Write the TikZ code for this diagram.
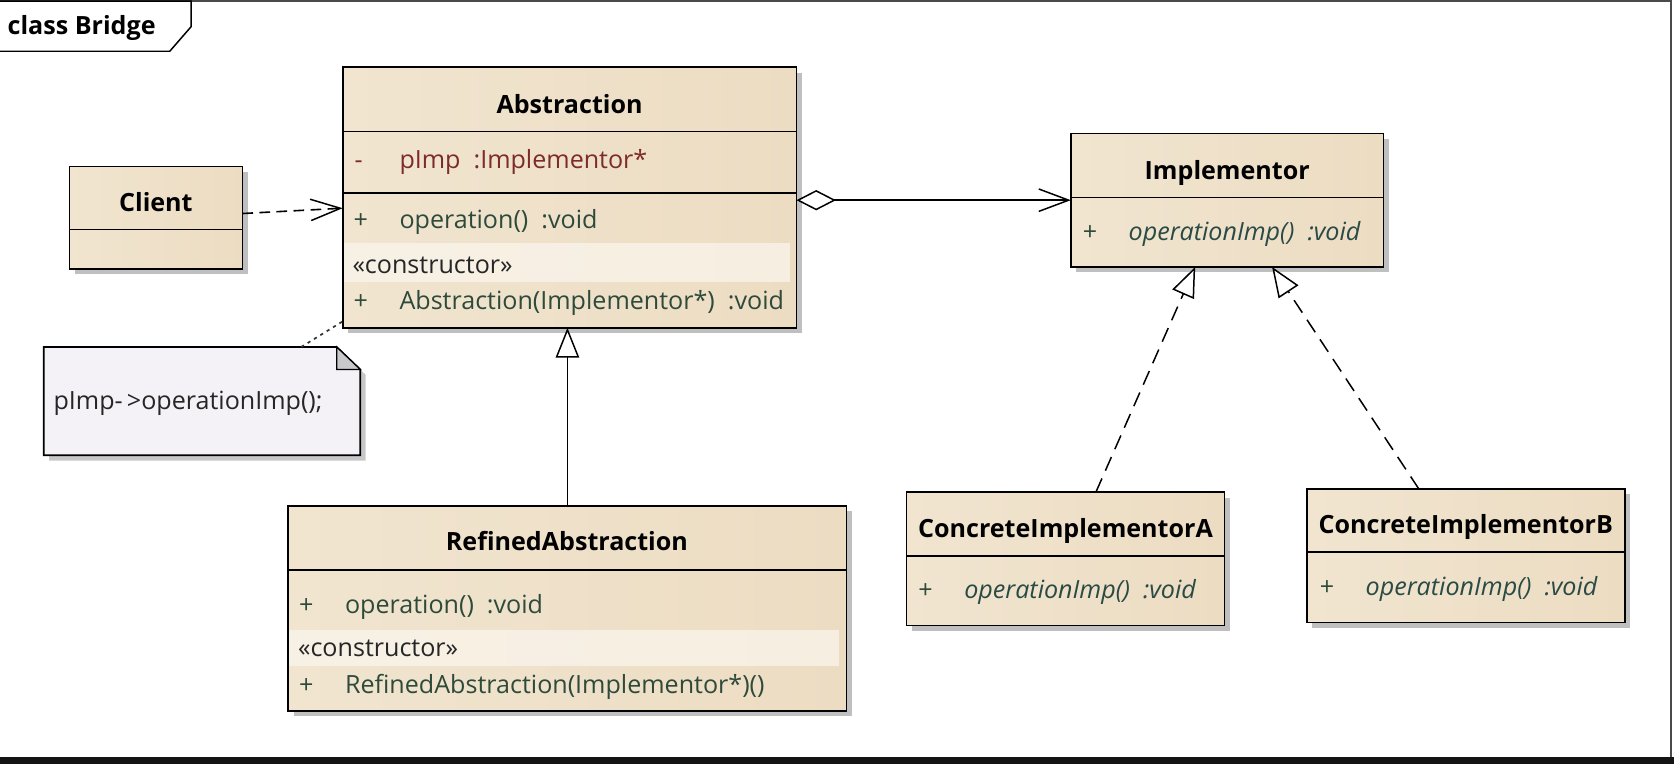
\documentclass[tikz,border=0pt]{standalone}
\usepackage{fontspec}
\setmainfont{Open Sans}
\usetikzlibrary{arrows.meta,shadows}
\definecolor{clsL}{HTML}{F1E5D0}
\definecolor{clsM}{HTML}{F9F4EC}
\definecolor{clsR}{HTML}{ECDCC2}
\definecolor{bandc}{HTML}{FAF5EC}
\definecolor{attrc}{HTML}{7E2B2B}
\definecolor{opc}{HTML}{2E4A3B}
\definecolor{itc}{HTML}{2A4A45}
\definecolor{notec}{HTML}{F4F2F6}
\definecolor{earc}{HTML}{C9C9CB}
\definecolor{framec}{HTML}{4A4A4A}
\tikzset{
  cls/.style={draw=black, line width=1.5pt, anchor=north west, inner sep=0pt, outer sep=0pt,
    left color=clsL, middle color=clsM, right color=clsR,
    drop shadow={shadow xshift=5pt, shadow yshift=-5pt, fill=black, opacity=0.25}},
  sepline/.style={draw=black, line width=1.5pt},
  ttl/.style={anchor=base, inner sep=0pt, font=\fontsize{23.5}{28}\selectfont\bfseries},
  row/.style={anchor=base west, inner sep=0pt, font=\fontsize{23.5}{28}\selectfont},
  band/.style={fill=bandc, fill opacity=0.75, draw=none},
  dep/.style={draw=black, line width=1.5pt, dash pattern=on 10pt off 6pt,
    -{Straight Barb[length=28pt,width=20pt,line width=1.4pt]}},
  assoc/.style={draw=black, line width=1.4pt,
    {Diamond[length=37pt,width=19pt,fill=white,line width=1.4pt]}-{Straight Barb[length=28pt,width=21pt,line width=1.4pt]}},
  gen/.style={draw=black, line width=1.4pt, -{Triangle[length=28pt,width=22pt,fill=white,line width=1.4pt]}},
  real/.style={draw=black, line width=1.4pt, dash pattern=on 14pt off 8pt,
    -{Triangle[length=28pt,width=22pt,fill=white,line width=1.4pt]}},
  notelink/.style={draw=black!80, line width=1.6pt, dash pattern=on 3pt off 4pt},
}
\begin{document}
\begin{tikzpicture}[x=1pt,y=-1pt]
\useasboundingbox (0,0) rectangle (1568,716);
\fill[white] (0,0) rectangle (1568,716);
% frame
\draw[framec, line width=2.5pt] (0,1) -- (1565,1);
\draw[framec, line width=1.8pt] (1565,0) -- (1565,710);
\fill[black!92] (0,709) rectangle (1568,716);
\draw[black, line width=1.4pt] (0,1) -- (179,1) -- (179,25) -- (159,48) -- (0,48);
\node[anchor=base west, inner sep=0pt, font=\fontsize{23.5}{28}\selectfont\bfseries] (frameLabel) at (7,32) {class Bridge};

% Abstraction
\node[cls, minimum width=425pt, minimum height=244pt] (abs) at (321,63) {};
\fill[band] (322,228) rectangle (740,264);
\draw[sepline] (abs.west |- 0,123) -- (abs.east |- 0,123);
\draw[sepline] (abs.west |- 0,181) -- (abs.east |- 0,181);
\node[ttl] (absT) at (533.5,106) {Abstraction};
\node[row, text=attrc] (absA1m) at (332,157.5) {-};
\node[row, text=attrc] (absA1) at (374,157.5) {pImp\ \ :Implementor*};
\node[row, text=opc] (absO1p) at (331,214) {+};
\node[row, text=opc] (absO1) at (374,214) {operation()\ \ :void};
\node[row, text=black!85] (absSt) at (330,256) {«constructor»};
\node[row, text=opc] (absO2p) at (331,290) {+};
\node[row, text=opc] (absO2) at (374,290) {Abstraction(Implementor*)\ \ :void};

% Client
\node[cls, minimum width=162pt, minimum height=96pt] (client) at (65,156) {};
\draw[sepline] (client.west |- 0,215) -- (client.east |- 0,215);
\node[ttl] (clientT) at (146,198) {Client};

% Note
\node[anchor=north west, inner sep=0pt, minimum width=296pt, minimum height=101pt] (note) at (41,325) {};
\fill[black, opacity=0.22] ([shift={(5pt,-5pt)}]note.north west) -- ([shift={(-17pt,-5pt)}]note.north east) -- ([shift={(5pt,-26pt)}]note.north east) -- ([shift={(5pt,-5pt)}]note.south east) -- ([shift={(5pt,-5pt)}]note.south west) -- cycle;
\draw[black, line width=1.5pt, fill=notec] (note.north west) -- ([xshift=-22pt]note.north east) -- ([yshift=-21pt]note.north east) -- (note.south east) -- (note.south west) -- cycle;
\draw[black, line width=1.2pt, fill=earc] ([xshift=-22pt]note.north east) -- ([xshift=-22pt,yshift=-21pt]note.north east) -- ([yshift=-21pt]note.north east) -- cycle;
\node[row, text=black!85] (noteT) at (50,384) {pImp-\,>operationImp();};

% RefinedAbstraction
\node[cls, minimum width=523pt, minimum height=192pt] (ref) at (270,474) {};
\fill[band] (271,590) rectangle (786,624);
\draw[sepline] (ref.west |- 0,534) -- (ref.east |- 0,534);
\node[ttl] (refT) at (531,516) {RefinedAbstraction};
\node[row, text=opc] (refO1p) at (280,574.5) {+};
\node[row, text=opc] (refO1) at (323,574.5) {operation()\ \ :void};
\node[row, text=black!85] (refSt) at (279,615) {«constructor»};
\node[row, text=opc] (refO2p) at (280,649.5) {+};
\node[row, text=opc] (refO2) at (323,649.5) {RefinedAbstraction(Implementor*)()};

% Implementor
\node[cls, minimum width=293pt, minimum height=125pt] (impl) at (1003,125) {};
\draw[sepline] (impl.west |- 0,185) -- (impl.east |- 0,185);
\node[ttl] (implT) at (1149.5,168) {Implementor};
\node[row, text=opc] (implO1p) at (1014,225) {+};
\node[row, text=itc, font=\fontsize{23.5}{28}\selectfont\itshape] (implO1) at (1057,225) {operationImp()\ \ :void};

% ConcreteImplementorA
\node[cls, minimum width=298pt, minimum height=125pt] (ca) at (849,461) {};
\draw[sepline] (ca.west |- 0,521) -- (ca.east |- 0,521);
\node[ttl] (caT) at (998,503) {ConcreteImplementorA};
\node[row, text=opc] (caO1p) at (860,561) {+};
\node[row, text=itc, font=\fontsize{23.5}{28}\selectfont\itshape] (caO1) at (903,561) {operationImp()\ \ :void};

% ConcreteImplementorB
\node[cls, minimum width=298pt, minimum height=125pt] (cb) at (1224,458) {};
\draw[sepline] (cb.west |- 0,517) -- (cb.east |- 0,517);
\node[ttl] (cbT) at (1373,500) {ConcreteImplementorB};
\node[row, text=opc] (cbO1p) at (1236,557.5) {+};
\node[row, text=itc, font=\fontsize{23.5}{28}\selectfont\itshape] (cbO1) at (1279,557.5) {operationImp()\ \ :void};

% connectors
\draw[dep] ([yshift=4pt]client.east) -- ([yshift=9pt]client.east -| abs.west);
\draw[assoc] (abs.east |- impl.west) -- (impl.west);
\draw[gen] (ref.north) -- (ref.north |- abs.south);
\draw[real] ([xshift=28.5pt]ca.north) -- ([xshift=-30pt]impl.south);
\draw[real] ([xshift=-44pt]cb.north) -- ([xshift=42pt]impl.south);
\draw[notelink] ([xshift=93pt]note.north) -- ([yshift=6pt]abs.south west);
\end{tikzpicture}
\end{document}
